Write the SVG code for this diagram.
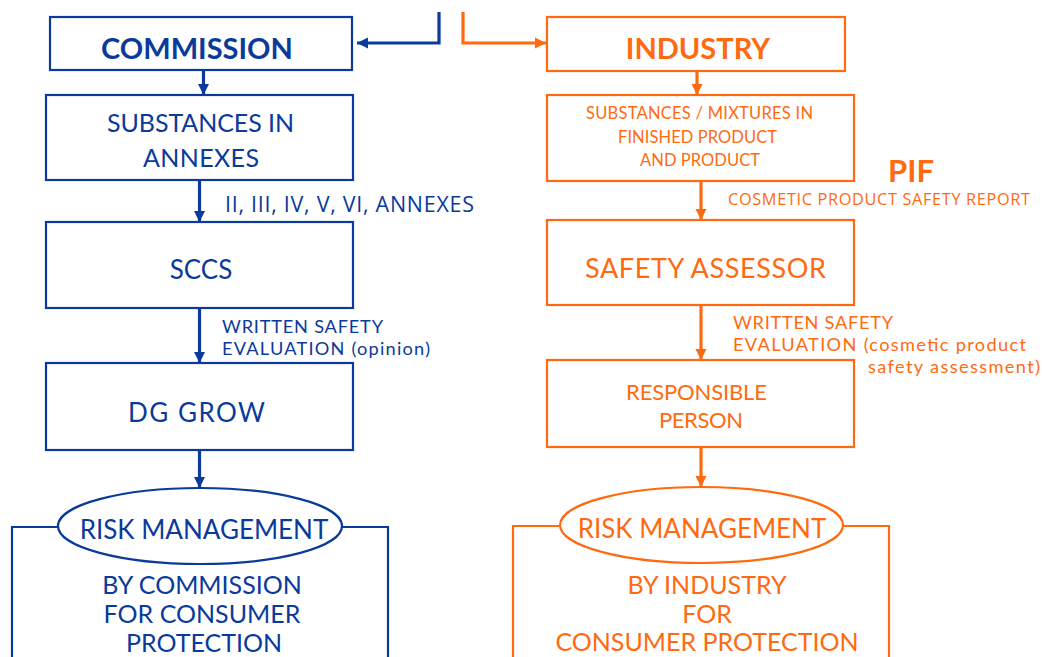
<svg xmlns="http://www.w3.org/2000/svg" width="1042" height="657" viewBox="0 0 1042 657">
<style>
.b{fill:none;stroke:#0a3a9a;stroke-width:2.2}
.o{fill:none;stroke:#ff6a10;stroke-width:2.2}
.tb{fill:#0a3a9a;font-family:Lato,"Open Sans",sans-serif}
.to{fill:#ff6a10;font-family:Lato,"Open Sans",sans-serif}
.a{font-family:"Open Sans",Lato,sans-serif}
.c{text-anchor:middle}
.cb{fill:none;stroke:#0a3a9a;stroke-width:3.2}
.co{fill:none;stroke:#ff6a10;stroke-width:3.2}
</style>
<defs>
<marker id="ab" markerWidth="12" markerHeight="12" refX="11" refY="6" orient="auto" markerUnits="userSpaceOnUse"><path d="M0,0.5 L11,6 L0,11.5 z" fill="#0a3a9a"/></marker>
<marker id="ao" markerWidth="12" markerHeight="12" refX="11" refY="6" orient="auto" markerUnits="userSpaceOnUse"><path d="M0,0.5 L11,6 L0,11.5 z" fill="#ff6a10"/></marker>
</defs>
<rect width="1042" height="657" fill="#fff"/>
<g id="connectors">
<path class="cb" d="M439,12 V43 H357" marker-end="url(#ab)"/>
<path class="co" d="M463,12 V43 H546" marker-end="url(#ao)"/>
<path class="cb" d="M203.5,70 V95" marker-end="url(#ab)"/>
<path class="cb" d="M199.5,180 V222" marker-end="url(#ab)"/>
<path class="cb" d="M199.5,308 V363" marker-end="url(#ab)"/>
<path class="cb" d="M199.5,450 V488" marker-end="url(#ab)"/>
<path class="co" d="M697,71 V95" marker-end="url(#ao)"/>
<path class="co" d="M701,181 V220" marker-end="url(#ao)"/>
<path class="co" d="M701,305 V360" marker-end="url(#ao)"/>
<path class="co" d="M701,447 V487" marker-end="url(#ao)"/>
<text class="tb a" x="225" y="212" font-size="21.5" textLength="249">II, III, IV, V, VI, ANNEXES</text>
<text class="tb" font-size="18.2"><tspan x="222" y="333" textLength="161">WRITTEN SAFETY</tspan><tspan x="222" y="355" textLength="208">EVALUATION (opinion)</tspan></text>
<text class="to a" x="728" y="205" font-size="16.3" textLength="302">COSMETIC PRODUCT SAFETY REPORT</text>
<text class="to" font-size="18.2"><tspan x="733" y="329" textLength="160">WRITTEN SAFETY</tspan><tspan x="733" y="351" textLength="293">EVALUATION (cosmetic product</tspan><tspan x="868" y="373" textLength="172">safety assessment)</tspan></text>
</g>
<g id="commission">
<rect class="b" x="50" y="17" width="302" height="53"/>
<text class="tb c" x="197" y="59" font-size="29" font-weight="bold">COMMISSION</text>
</g>
<g id="substances-annexes">
<rect class="b" x="46" y="95" width="307" height="85"/>
<text class="tb c" font-size="25"><tspan x="200.5" y="132" textLength="187">SUBSTANCES IN</tspan><tspan x="201" y="167" textLength="116">ANNEXES</tspan></text>
</g>
<g id="sccs">
<rect class="b" x="46" y="222" width="307" height="86"/>
<text class="tb c" x="201" y="279" font-size="26">SCCS</text>
</g>
<g id="dg-grow">
<rect class="b" x="46" y="363" width="307" height="87"/>
<text class="tb c" x="196.5" y="422" font-size="26" textLength="137">DG GROW</text>
</g>
<g id="risk-commission">
<path class="b" d="M58,527 H12 V657 M342,527 H388 V657"/>
<ellipse class="b" cx="200" cy="526" rx="142" ry="38"/>
<text class="tb c" x="204" y="539" font-size="26">RISK MANAGEMENT</text>
<text class="tb c" font-size="25"><tspan x="202" y="594">BY COMMISSION</tspan><tspan x="202" y="623">FOR CONSUMER</tspan><tspan x="204" y="652">PROTECTION</tspan></text>
</g>
<g id="industry">
<rect class="o" x="547" y="17" width="298" height="54"/>
<text class="to c" x="698" y="59" font-size="29" font-weight="bold">INDUSTRY</text>
</g>
<g id="substances-mixtures">
<rect class="o" x="547" y="95" width="307" height="86"/>
<text class="to c" font-size="16.5"><tspan x="699.5" y="119" textLength="227">SUBSTANCES / MIXTURES IN</tspan><tspan x="697.5" y="143" textLength="159">FINISHED PRODUCT</tspan><tspan x="700" y="166" textLength="120">AND PRODUCT</tspan></text>
</g>
<g id="pif">
<text class="to" x="888" y="182" font-size="31" font-weight="bold">PIF</text>
</g>
<g id="safety-assessor">
<rect class="o" x="547" y="220" width="307" height="85"/>
<text class="to c" x="705.5" y="278" font-size="27" textLength="241">SAFETY ASSESSOR</text>
</g>
<g id="responsible-person">
<rect class="o" x="547" y="360" width="307" height="87"/>
<text class="to c" font-size="22"><tspan x="696.5" y="400" textLength="141">RESPONSIBLE</tspan><tspan x="701" y="428" textLength="84">PERSON</tspan></text>
</g>
<g id="risk-industry">
<path class="o" d="M560,526 H513 V657 M843,526 H889 V657"/>
<ellipse class="o" cx="701.5" cy="525" rx="141.5" ry="38"/>
<text class="to c" x="702" y="538" font-size="26">RISK MANAGEMENT</text>
<text class="to c" font-size="25"><tspan x="707" y="594">BY INDUSTRY</tspan><tspan x="707" y="623">FOR</tspan><tspan x="707" y="651">CONSUMER PROTECTION</tspan></text>
</g>
</svg>
